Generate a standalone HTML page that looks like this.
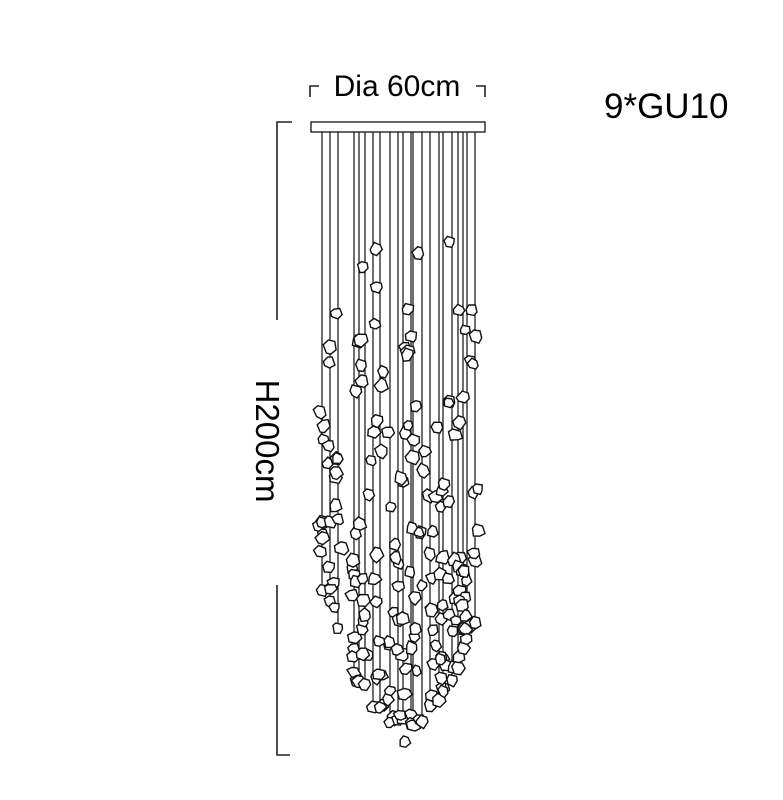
<!DOCTYPE html>
<html><head><meta charset="utf-8"><style>
html,body{margin:0;padding:0;background:#fff;}
svg{display:block}
</style></head><body>
<svg id="s" width="783" height="800" viewBox="0 0 783 800" xmlns="http://www.w3.org/2000/svg">
<rect width="783" height="800" fill="#fff"/>
<text x="397" y="96" font-family="Liberation Sans, sans-serif" font-size="30" text-anchor="middle" fill="#000">Dia 60cm</text>
<path d="M310 97 V86 H319 M485 97 V86 H476" stroke="#222" stroke-width="1.6" fill="none"/>
<text x="604" y="118" font-family="Liberation Sans, sans-serif" font-size="35" fill="#000">9*GU10</text>
<path d="M277 320 V122 H292 M277 585 V755 H290" stroke="#222" stroke-width="1.6" fill="none"/>
<text transform="translate(256,441) rotate(90)" font-family="Liberation Sans, sans-serif" font-size="33" text-anchor="middle" fill="#000">H200cm</text>
<g id="rods" stroke="#222" stroke-width="1.3" fill="none"></g>
<rect x="311" y="122" width="174" height="10" fill="#fff" stroke="#222" stroke-width="1.4"/>
<g id="cr" stroke="#111" stroke-width="1.4" fill="#fff"></g>
</svg>
<script>
(function(){
var xs=[322,330,338,354,359,365,373,380,390,398,403,411,413,422,430,439,443,452,458,463,467,475];
var seed=7;function r(){seed=(seed*16807)%2147483647;return (seed-1)/2147483646;}
var rods=document.getElementById('rods'),cr=document.getElementById('cr');
var ns='http://www.w3.org/2000/svg';
var cx=405;
var items=[];
xs.forEach(function(x){
  var d=Math.abs(x-cx)/80;
  var bottom=730-d*d*130-r()*15;
  var l=document.createElementNS(ns,'line');
  l.setAttribute('x1',x);l.setAttribute('x2',x);l.setAttribute('y1',132);l.setAttribute('y2',bottom);
  rods.appendChild(l);
  var n=7+Math.floor(r()*3);
  for(var i=0;i<n;i++){
    var t=Math.pow(r(),0.55);
    var y=230+t*(bottom-230);
    items.push([x+(r()-0.5)*8,y]);
  }
  items.push([x,bottom]);
});
items.push([405,742]);items.push([400,715]);
items.forEach(function(p){
  var s=5.5+r()*1.5,pts=[];
  for(var k=0;k<6;k++){var a=k*Math.PI/3+r()*0.5;var rr=s*(0.8+r()*0.35);pts.push((p[0]+rr*Math.cos(a)).toFixed(1)+','+(p[1]+rr*Math.sin(a)).toFixed(1));}
  var pg=document.createElementNS(ns,'polygon');pg.setAttribute('points',pts.join(' '));cr.appendChild(pg);
});
})();
</script>
</body></html>
